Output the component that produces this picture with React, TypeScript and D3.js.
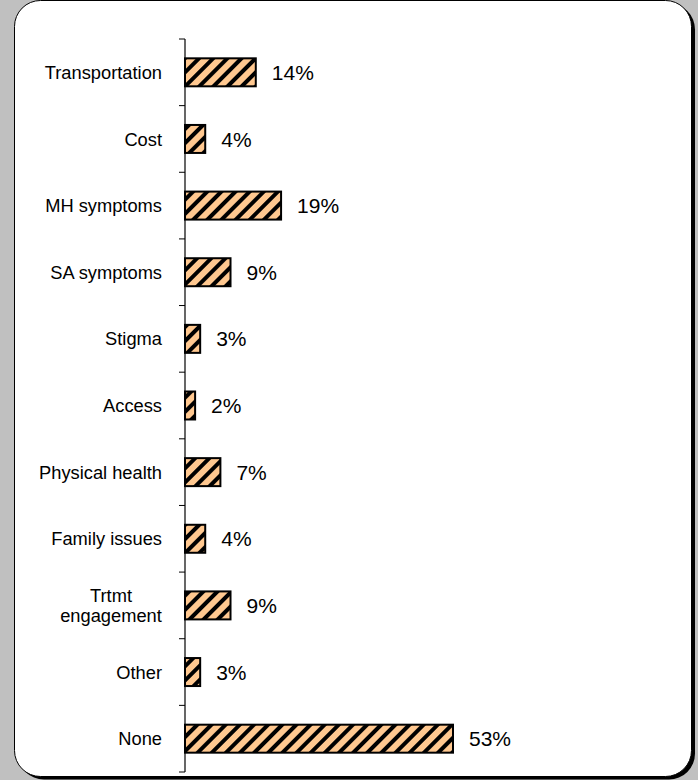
import React from "react";
import * as d3 from "d3";

const categories = [
  "Transportation",
  "Cost",
  "MH symptoms",
  "SA symptoms",
  "Stigma",
  "Access",
  "Physical health",
  "Family issues",
  "Trtmt\nengagement",
  "Other",
  "None",
];
const values = [14, 4, 19, 9, 3, 2, 7, 4, 9, 3, 53];
const valueLabels = values.map((v) => `${v}%`);

const W = 698;
const H = 780;
const axisX = 185;
const top = 39;
const bottom = 772;

export default function App() {
  const y = d3.scaleBand<string>().domain(categories).range([top, bottom]).padding(0);
  const x = d3.scaleLinear().domain([0, 53]).range([axisX, 453]);
  const bh = y.bandwidth() * 0.42;
  const ticks = d3.range(categories.length + 1).map((i) => top + i * y.step());

  return (
    <svg
      width={W}
      height={H}
      style={{ position: "absolute", left: 0, top: 0 }}
      fontFamily="Liberation Sans, Arial, sans-serif"
    >
      <defs>
        <pattern
          id="hatch"
          patternUnits="userSpaceOnUse"
          width={10}
          height={10}
          patternTransform="rotate(45)"
        >
          <rect width={10} height={10} fill="#FFC890" />
          <rect x={0} y={0} width={4} height={10} fill="#000" />
        </pattern>
      </defs>
      <rect x={0} y={0} width={W} height={H} fill="#c0c0c0" />
      <rect x={18} y={3.5} width={677} height={776} rx={26} ry={26} fill="#000" />
      <rect
        x={14.5}
        y={0.5}
        width={677}
        height={776}
        rx={26}
        ry={26}
        fill="#fff"
        stroke="#000"
        strokeWidth={1}
      />
      {categories.map((c, i) => {
        const cy = (y(c) as number) + y.bandwidth() / 2;
        const lines = c.split("\n");
        const x0 = x(0);
        const x1 = x(values[i]);
        return (
          <g key={c}>
            <rect
              x={x0}
              y={cy - bh / 2}
              width={x1 - x0}
              height={bh}
              fill="url(#hatch)"
              stroke="#000"
              strokeWidth={2}
            />
            <text x={x1 + 16} y={cy} dy="0.36em" fontSize={21} fill="#000">
              {valueLabels[i]}
            </text>
            {lines.length === 1 ? (
              <text x={162} y={cy} dy="0.36em" fontSize={18.3} textAnchor="end" fill="#000">
                {c}
              </text>
            ) : (
              <text fontSize={18.3} textAnchor="middle" fill="#000">
                {lines.map((l, j) => (
                  <tspan
                    key={j}
                    x={111}
                    y={cy + (j - (lines.length - 1) / 2) * 20}
                    dy="0.36em"
                  >
                    {l}
                  </tspan>
                ))}
              </text>
            )}
          </g>
        );
      })}
      <line x1={axisX} x2={axisX} y1={top} y2={bottom} stroke="#000" strokeWidth={1.2} />
      {ticks.map((t, i) => (
        <line key={i} x1={179} x2={axisX} y1={t} y2={t} stroke="#000" strokeWidth={1} />
      ))}
    </svg>
  );
}
